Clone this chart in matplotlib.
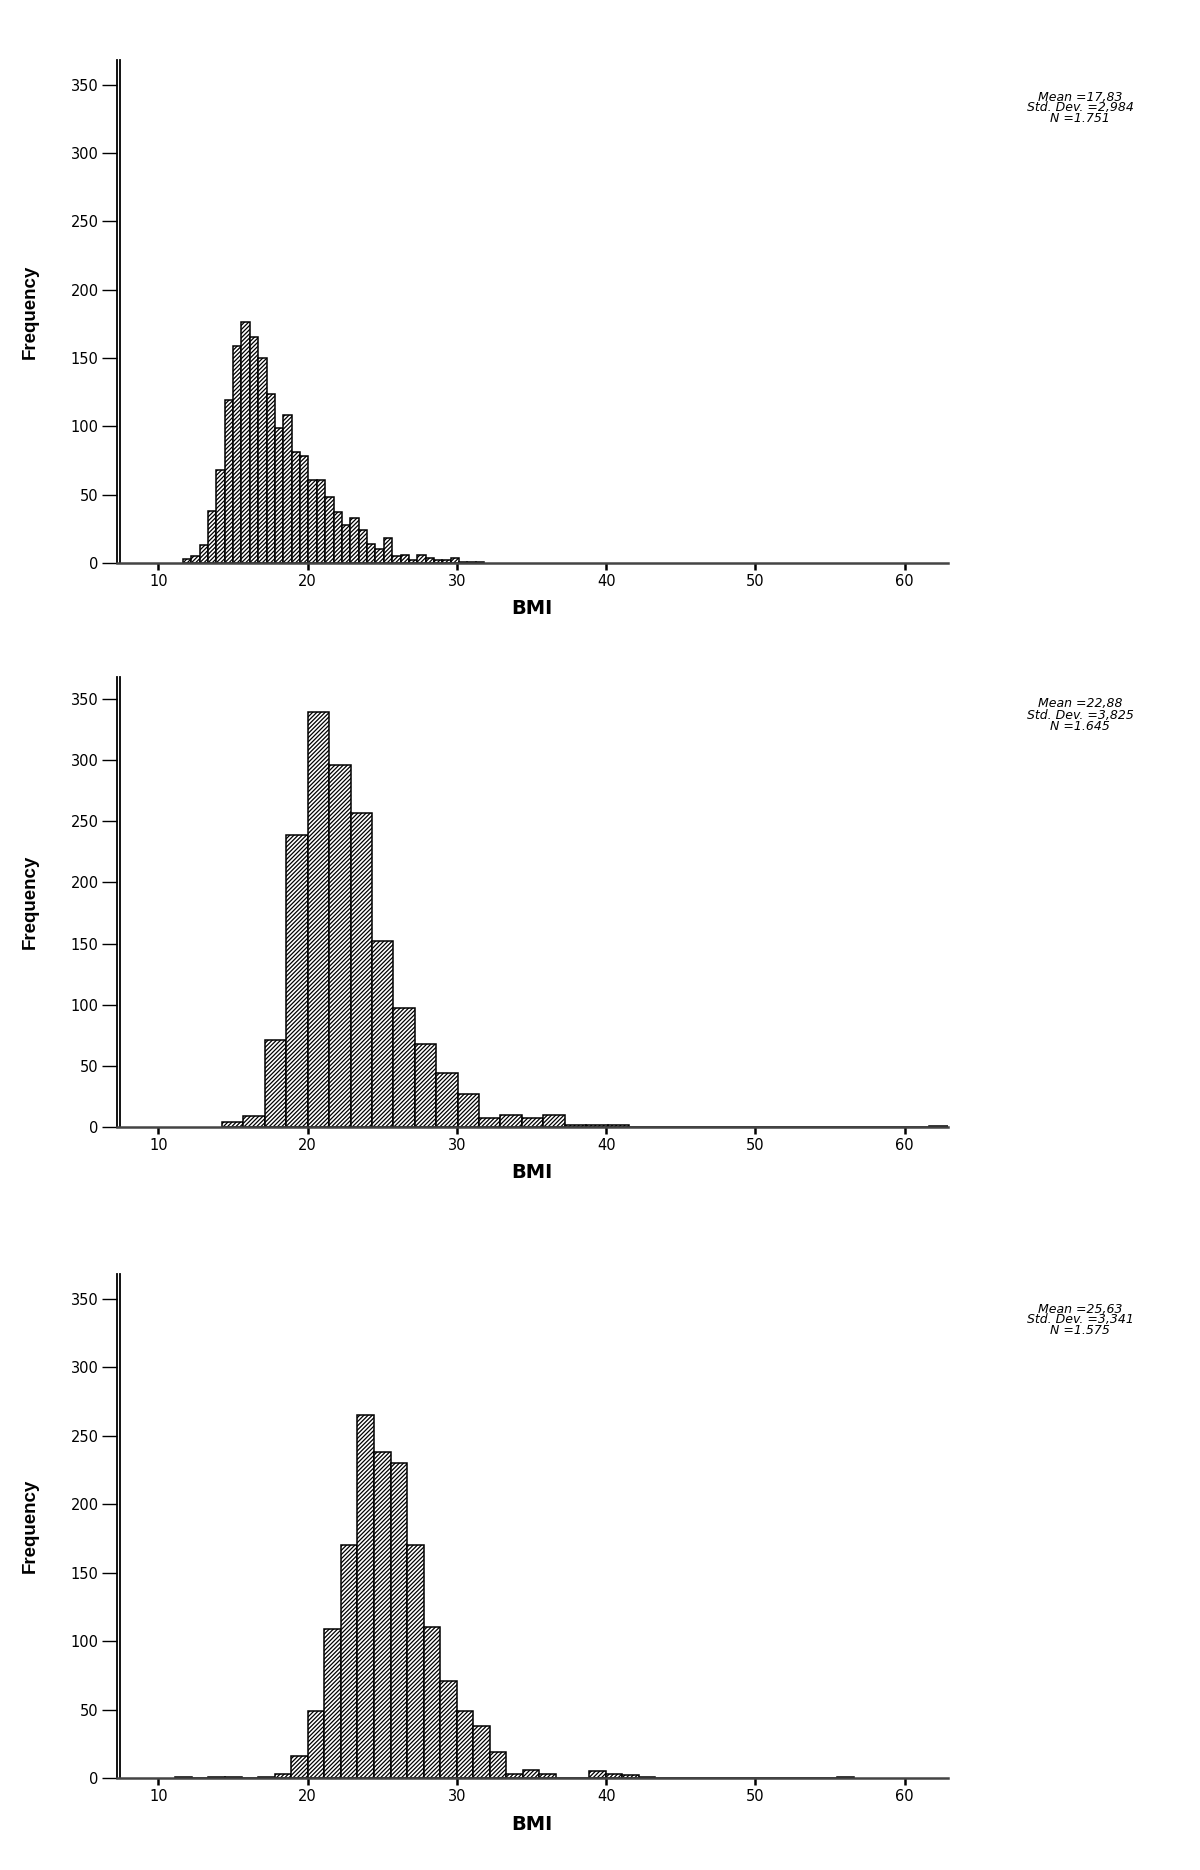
import matplotlib.pyplot as plt
import numpy as np

# three BMI histograms, counts (bin start, bin width, counts)
bmi1_start = 11.63
bmi1_width = 0.561
bmi1_counts = [3, 5, 13, 38, 68, 119, 159, 176, 165, 150, 124, 99, 108, 81, 78, 61,
               61, 48, 37, 28, 33, 24, 14, 10, 18, 5, 6, 2, 6, 4, 2, 2, 4, 1, 1, 1]
bmi1_stats = "Mean =17,83\nStd. Dev. =2,984\nN =1.751"

bmi2_start = 14.26
bmi2_width = 1.435
bmi2_counts = [4, 9, 71, 239, 339, 296, 257, 152, 97, 68, 44, 27, 7, 10, 7, 10, 2, 2, 2,
               0, 0, 0, 0, 0, 0, 0, 0, 0, 0, 0, 0, 0, 0, 1]
bmi2_stats = "Mean =22,88\nStd. Dev. =3,825\nN =1.645"

bmi3_start = 11.13
bmi3_width = 1.109
bmi3_counts = [1, 0, 1, 1, 0, 1,
               3, 16, 49, 109, 170, 265, 238, 230, 170, 110, 71, 49, 38, 19, 3, 6, 3,
               0, 0, 5, 3, 2, 1,
               0, 0, 0, 0, 0, 0, 0, 0, 0, 0, 0, 1]
bmi3_stats = "Mean =25,63\nStd. Dev. =3,341\nN =1.575"

xticks = [10, 20, 30, 40, 50, 60]
yticks = [0, 50, 100, 150, 200, 250, 300, 350]

plt.rcParams['hatch.linewidth'] = 0.9
fig = plt.figure(figsize=(12, 18.7), dpi=100)

W, H = 1200.0, 1870.0
# (top px, baseline px, stats text y px)
panels = [
    (bmi1_start, bmi1_width, bmi1_counts, bmi1_stats, 60, 563, 108),
    (bmi2_start, bmi2_width, bmi2_counts, bmi2_stats, 677, 1127, 715),
    (bmi3_start, bmi3_width, bmi3_counts, bmi3_stats, 1274, 1778, 1320),
]

left_px, right_px = 116.7, 948

for start, width, counts, stats, top, base, ty in panels:
    ax = fig.add_axes([left_px / W, 1 - base / H, (right_px - left_px) / W, (base - top) / H])
    edges = start + width * np.arange(len(counts))
    ax.bar(edges, counts, width=width, align='edge', color='white',
           edgecolor='black', linewidth=1.1, hatch='////////')
    ax.set_xlim(7.2, 62.9)
    ax.set_ylim(0, 368)

    for s in ['top', 'right']:
        ax.spines[s].set_visible(False)
    ax.spines['left'].set_linewidth(1.3)
    ax.spines['left'].set_color('black')
    ax.spines['bottom'].set_linewidth(1.8)
    ax.spines['bottom'].set_color('#444444')
    # inner line of the double y axis
    ax.plot([0.004, 0.004], [0, 1], transform=ax.transAxes, color='black', lw=1.3, clip_on=False)

    ax.set_xticks(xticks)
    ax.set_yticks(yticks)
    ax.tick_params(axis='y', length=11, width=1.0, direction='out', pad=2, labelsize=10.5)
    ax.tick_params(axis='x', length=5, width=1.8, direction='out', pad=3, labelsize=10.5)

    ax.set_ylabel('Frequency', fontsize=13.5, fontweight='bold',
                  family=['Liberation Sans', 'DejaVu Sans'])
    ax.yaxis.set_label_coords((39 - left_px) / (right_px - left_px), 0.5)
    ax.set_xlabel('BMI', fontsize=14, fontweight='bold', family='DejaVu Sans')
    ax.xaxis.label.set_va('center')
    ax.xaxis.set_label_coords(0.5, -46.0 / (base - top))

    fig.text(1080 / W, 1 - ty / H, stats, ha='center', va='center', fontsize=9,
             fontstyle='italic', linespacing=0.8)

fig.savefig('out.png', dpi=100, facecolor='white')
